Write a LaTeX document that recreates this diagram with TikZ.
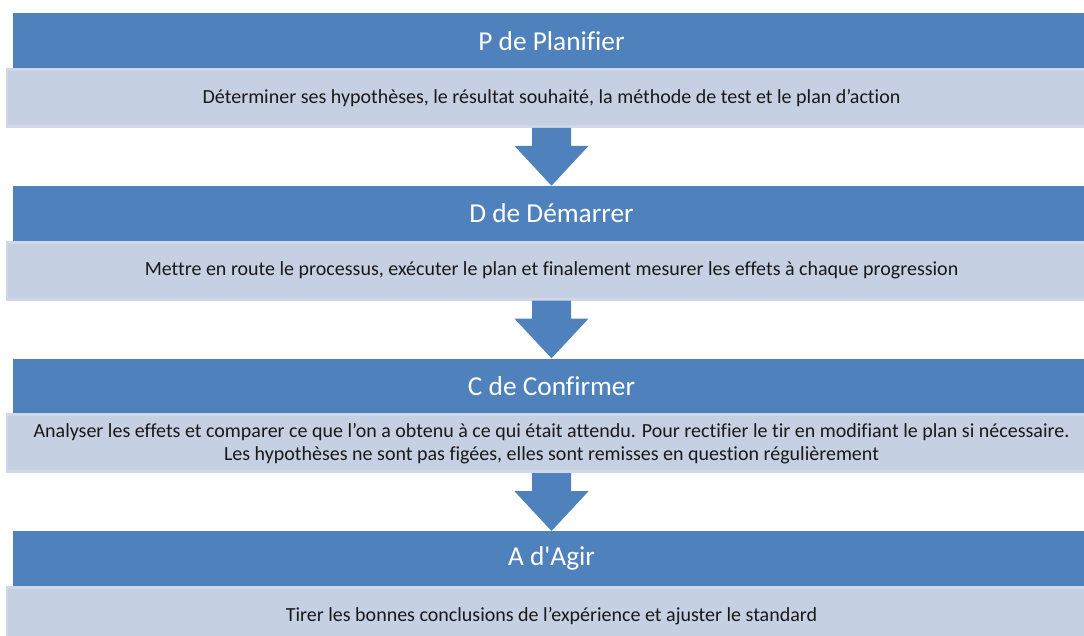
\documentclass[tikz,border=0pt]{standalone}
\usepackage{fontspec}
\setmainfont{Carlito}[Ligatures={TeXOff,CommonOff}]
\usetikzlibrary{calc}
\definecolor{hdr}{HTML}{4F81BD}
\definecolor{lgt}{HTML}{C5D0E3}
\definecolor{lgtb}{HTML}{D0D8E8}
\tikzset{
  header/.style={fill=hdr, draw=none, minimum width=807.75pt, minimum height=41.25pt,
    inner sep=0pt, text=white, anchor=north, font=\fontsize{20.5}{24}\selectfont},
  detail/.style={fill=lgt, draw=lgtb, line width=2.2pt, minimum width=816.75pt, minimum height=42.75pt,
    inner sep=0pt, text=black!90, anchor=north, align=center, font=\fontsize{15}{17.3}\selectfont},
  blockarrow/.style={fill=hdr, draw=none}
}
\newcommand\pdcaarrow[2]{%
  \path[blockarrow] ($(#1.south)+(-19.5,0)$) -- ($(#1.south)+(19.5,0)$) -- ($(#1.south)+(19.5,18)$)
    -- ($(#1.south)+(37,18)$) -- (#2.north) -- ($(#1.south)+(-37,18)$) -- ($(#1.south)+(-19.5,18)$) -- cycle;}
\begin{document}
\begin{tikzpicture}[x=0.75pt,y=-0.75pt]
\useasboundingbox (0,0) rectangle (1084,635);
\clip (0,0) rectangle (1084,635);
\node[header] (h1) at (551.5,13) {P de Planifier};
\node[detail] (d1) at (551.5,68) {Déterminer ses hypothèses, le résultat souhaité, la méthode de test et le plan d’action};
\node[header] (h2) at (551.5,185.7) {D de Démarrer};
\node[detail] (d2) at (551.5,240.7) {Mettre en route le processus, exécuter le plan et finalement mesurer les effets à chaque progression};
\node[header] (h3) at (551.5,358.3) {C de Confirmer};
\node[detail] (d3) at (551.5,413.3) {Analyser les effets et comparer ce que l’on a obtenu à ce qui était attendu. Pour rectifier le tir en modifiant le plan si nécessaire.\\Les hypothèses ne sont pas figées, elles sont remisses en question régulièrement};
\node[header] (h4) at (551.5,531) {A d'Agir};
\node[detail] (d4) at (551.5,586) {Tirer les bonnes conclusions de l’expérience et ajuster le standard};
\pdcaarrow{d1}{h2}
\pdcaarrow{d2}{h3}
\pdcaarrow{d3}{h4}
\end{tikzpicture}
\end{document}
